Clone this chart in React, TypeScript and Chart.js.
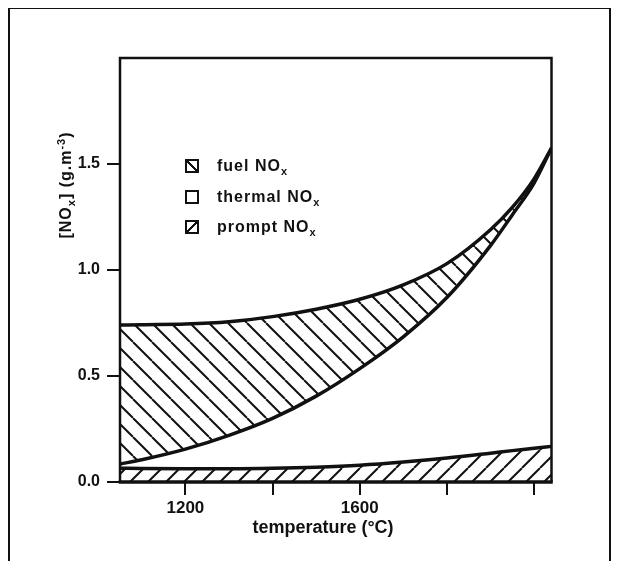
import React, { useEffect, useRef } from 'react';
import { Chart, registerables } from 'chart.js';

Chart.register(...registerables);

// ---- data ----
const temperatures = [1050, 1100, 1200, 1300, 1400, 1500, 1600, 1700, 1800, 1900, 1950, 2000, 2040];
// upper boundary: fuel + thermal + prompt
const totalNOx = [0.74, 0.742, 0.745, 0.756, 0.78, 0.815, 0.862, 0.93, 1.03, 1.19, 1.295, 1.43, 1.575];
// lower boundary of the fuel band: thermal + prompt
const thermalPlusPrompt = [0.085, 0.105, 0.155, 0.22, 0.3, 0.405, 0.535, 0.685, 0.87, 1.115, 1.26, 1.41, 1.575];
// prompt NOx
const promptNOx = [0.065, 0.064, 0.063, 0.063, 0.065, 0.07, 0.079, 0.094, 0.113, 0.136, 0.148, 0.159, 0.168];

const xTicks = [1200, 1400, 1600, 1800, 2000];
const xTickLabels = ['1200', '', '1600', '', ''];
const yTicks = [0, 0.5, 1.0, 1.5];
const yTickLabels = ['0.0', '0.5', '1.0', '1.5'];
const legendNames = ['fuel', 'thermal', 'prompt'];

const INK = '#111';
const FONT = "'Liberation Sans', Arial, Helvetica, sans-serif";

function makeHatch(ctx: CanvasRenderingContext2D, spacing: number, dir: 'back' | 'fwd', lw: number) {
  const c = document.createElement('canvas');
  c.width = spacing;
  c.height = spacing;
  const g = c.getContext('2d')!;
  g.fillStyle = '#fff';
  g.fillRect(0, 0, spacing, spacing);
  g.strokeStyle = INK;
  g.lineWidth = lw;
  g.beginPath();
  for (const k of [-1, 0, 1]) {
    if (dir === 'back') {
      g.moveTo(k * spacing, 0);
      g.lineTo(k * spacing + spacing, spacing);
    } else {
      g.moveTo(k * spacing, spacing);
      g.lineTo(k * spacing + spacing, 0);
    }
  }
  g.stroke();
  return ctx.createPattern(c, 'repeat')!;
}

const framePlugin = {
  id: 'plotFrame',
  afterDatasetsDraw(chart: any) {
    const { ctx, chartArea: a } = chart;
    ctx.save();
    ctx.strokeStyle = INK;
    ctx.lineWidth = 2.5;
    ctx.beginPath();
    ctx.moveTo(a.left, a.bottom);
    ctx.lineTo(a.left, a.top);
    ctx.lineTo(a.right, a.top);
    ctx.lineTo(a.right, a.bottom);
    ctx.stroke();
    ctx.lineWidth = 3.5;
    ctx.beginPath();
    ctx.moveTo(a.left - 1.25, a.bottom);
    ctx.lineTo(a.right + 1.25, a.bottom);
    ctx.stroke();
    ctx.restore();
  },
};

const legendIcon = (name: string): React.CSSProperties => {
  const base: React.CSSProperties = {
    width: 14,
    height: 14,
    boxSizing: 'border-box',
    border: `2px solid ${INK}`,
    background: '#fff',
    flex: 'none',
  };
  if (name === 'fuel') {
    base.background = `linear-gradient(to bottom left, #fff calc(50% - 1px), ${INK} calc(50% - 1px), ${INK} calc(50% + 1px), #fff calc(50% + 1px))`;
  } else if (name === 'prompt') {
    base.background = `linear-gradient(to bottom right, #fff calc(50% - 1px), ${INK} calc(50% - 1px), ${INK} calc(50% + 1px), #fff calc(50% + 1px))`;
  }
  return base;
};

export default function App() {
  const canvasRef = useRef<HTMLCanvasElement | null>(null);

  useEffect(() => {
    const canvas = canvasRef.current;
    if (!canvas) return;
    const ctx = canvas.getContext('2d')!;
    const fuelPattern = makeHatch(ctx, 19, 'back', 2);
    const promptPattern = makeHatch(ctx, 18, 'fwd', 2);

    const pts = (vals: number[]) => temperatures.map((t, i) => ({ x: t, y: vals[i] }));

    const chart = new Chart(ctx, {
      type: 'line',
      data: {
        datasets: [
          {
            label: 'prompt NOx',
            data: pts(promptNOx),
            borderColor: INK,
            borderWidth: 3.5,
            backgroundColor: promptPattern,
            fill: 'origin',
            pointRadius: 0,
            cubicInterpolationMode: 'monotone',
          },
          {
            label: 'thermal NOx',
            data: pts(thermalPlusPrompt),
            borderColor: INK,
            borderWidth: 3.5,
            backgroundColor: 'rgba(0,0,0,0)',
            fill: false,
            pointRadius: 0,
            cubicInterpolationMode: 'monotone',
          },
          {
            label: 'fuel NOx',
            data: pts(totalNOx),
            borderColor: INK,
            borderWidth: 3.5,
            backgroundColor: fuelPattern,
            fill: '-1',
            pointRadius: 0,
            cubicInterpolationMode: 'monotone',
          },
        ],
      },
      options: {
        animation: false,
        responsive: false,
        events: [],
        layout: { padding: { left: 60, right: 69.5, top: 58, bottom: 42 } },
        plugins: {
          legend: { display: false },
          tooltip: { enabled: false },
          title: { display: false },
        },
        scales: {
          x: {
            type: 'linear',
            min: 1050,
            max: 2040,
            afterBuildTicks: (axis: any) => {
              axis.ticks = xTicks.map((v) => ({ value: v }));
            },
            afterFit: (scale: any) => {
              scale.height = 45;
            },
            ticks: {
              autoSkip: false,
              maxRotation: 0,
              padding: 3,
              color: INK,
              font: { family: FONT, size: 17, weight: 'bold' },
              callback: (v: any) => {
                const i = xTicks.indexOf(Number(v));
                return i >= 0 ? xTickLabels[i] : '';
              },
            },
            grid: {
              display: true,
              drawOnChartArea: false,
              drawTicks: true,
              tickLength: 13,
              color: INK,
              lineWidth: 2,
            },
            border: { display: false },
          },
          y: {
            type: 'linear',
            min: 0,
            max: 2.0,
            afterBuildTicks: (axis: any) => {
              axis.ticks = yTicks.map((v) => ({ value: v }));
            },
            afterFit: (scale: any) => {
              scale.width = 60;
            },
            ticks: {
              autoSkip: false,
              padding: 7,
              color: INK,
              font: { family: FONT, size: 16, weight: 'bold' },
              callback: (v: any) => {
                const i = yTicks.indexOf(Number(v));
                return i >= 0 ? yTickLabels[i] : '';
              },
            },
            grid: {
              display: true,
              drawOnChartArea: false,
              drawTicks: true,
              tickLength: 13,
              color: INK,
              lineWidth: 2,
            },
            border: { display: false },
          },
        },
      } as any,
      plugins: [framePlugin],
    });

    return () => {
      chart.destroy();
    };
  }, []);

  const rowCenters = [166, 197, 227];

  return (
    <div
      style={{
        position: 'relative',
        width: 621,
        height: 569,
        margin: -8,
        overflow: 'hidden',
        background: '#fff',
        fontFamily: FONT,
        color: INK,
      }}
    >
      <canvas
        ref={canvasRef}
        width={621}
        height={569}
        style={{ position: 'absolute', left: 0, top: 0, width: 621, height: 569 }}
      />
      {/* outer figure frame */}
      <div
        style={{
          position: 'absolute',
          left: 8,
          top: 7,
          width: 603,
          height: 600,
          boxSizing: 'border-box',
          borderLeft: `2.5px solid ${INK}`,
          borderTop: `2.5px solid ${INK}`,
          borderRight: `2.5px solid ${INK}`,
          pointerEvents: 'none',
        }}
      />
      {/* legend */}
      {legendNames.map((name, i) => (
        <div
          key={name}
          style={{
            position: 'absolute',
            left: 185,
            top: rowCenters[i] - 10,
            height: 20,
            display: 'flex',
            alignItems: 'center',
            whiteSpace: 'nowrap',
            fontWeight: 'bold',
            fontSize: 16,
            letterSpacing: 1,
            lineHeight: '20px',
          }}
        >
          <span style={legendIcon(name)} />
          <span style={{ marginLeft: 18 }}>
            {name} NO
            <sub style={{ fontSize: 11, lineHeight: 0 }}>x</sub>
          </span>
        </div>
      ))}
      {/* y axis title */}
      <div
        style={{
          position: 'absolute',
          left: 66,
          top: 185,
          transform: 'translate(-50%, -50%) rotate(-90deg)',
          whiteSpace: 'nowrap',
          fontWeight: 'bold',
          fontSize: 16,
          letterSpacing: 1,
          lineHeight: '20px',
        }}
      >
        [NO<sub style={{ fontSize: 11, lineHeight: 0 }}>x</sub>] (g.m
        <sup style={{ fontSize: 11, lineHeight: 0 }}>-3</sup>)
      </div>
      {/* x axis title */}
      <div
        style={{
          position: 'absolute',
          left: 323,
          top: 516,
          transform: 'translateX(-50%)',
          whiteSpace: 'nowrap',
          fontWeight: 'bold',
          fontSize: 18,
          lineHeight: '22px',
        }}
      >
        temperature (°C)
      </div>
    </div>
  );
}
